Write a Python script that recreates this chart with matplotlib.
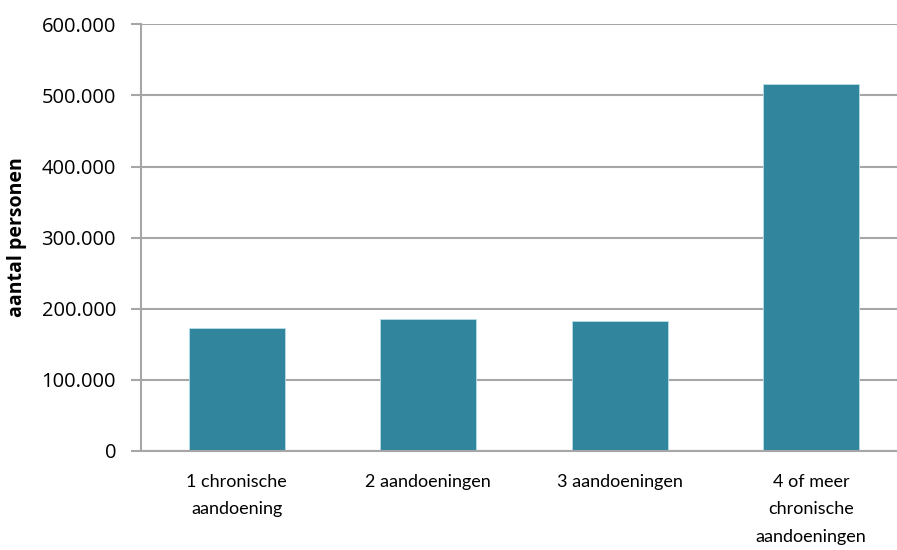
import matplotlib.pyplot as plt
import matplotlib.ticker as mticker

# Data
categories = ['1 chronische\naandoening', '2 aandoeningen', '3 aandoeningen',
              '4 of meer\nchronische\naandoeningen']
persons = [172600, 186000, 182800, 515700]
yticks = [0, 100000, 200000, 300000, 400000, 500000, 600000]

BAR = '#31859C'
GRID = '#A6A6A6'

plt.rcParams['font.family'] = ['Open Sans', 'DejaVu Sans']

fig = plt.figure(figsize=(8.97, 5.5), dpi=100, facecolor='white')
ax = fig.add_axes([141 / 897, 1 - 451 / 550, 766 / 897, (451 - 24.3) / 550])

x = range(len(categories))
ax.bar(x, persons, width=0.5, color=BAR, edgecolor='#B7DEE8', linewidth=0.6, zorder=3)

ax.set_xlim(-0.5, len(categories) - 0.5)
ax.set_ylim(0, 600000)
ax.set_yticks(yticks)
ax.yaxis.set_major_formatter(mticker.FuncFormatter(lambda v, p: f'{int(v):,}'.replace(',', '.')))
ax.grid(axis='y', color=GRID, linewidth=1.5, zorder=0)
ax.set_axisbelow(True)

for s in ['top', 'right']:
    ax.spines[s].set_visible(False)
for s in ['left', 'bottom']:
    ax.spines[s].set_color(GRID)
    ax.spines[s].set_linewidth(1.5)
    ax.spines[s].set_zorder(4)

ax.tick_params(axis='y', length=7, width=1.5, color=GRID, pad=11, labelsize=14.5)

ax.set_xticks(list(x))
ax.set_xticklabels(categories, family=['Lato', 'DejaVu Sans'],
                   fontsize=13, linespacing=1.87)
ax.tick_params(axis='x', length=0, pad=16.5)

ax.set_ylabel('aantal personen', fontsize=14, fontweight='bold')
ax.yaxis.set_label_coords(-114 / 766, (451 - 237) / (451 - 24.3))

fig.savefig('out.png', dpi=100, facecolor='white')
